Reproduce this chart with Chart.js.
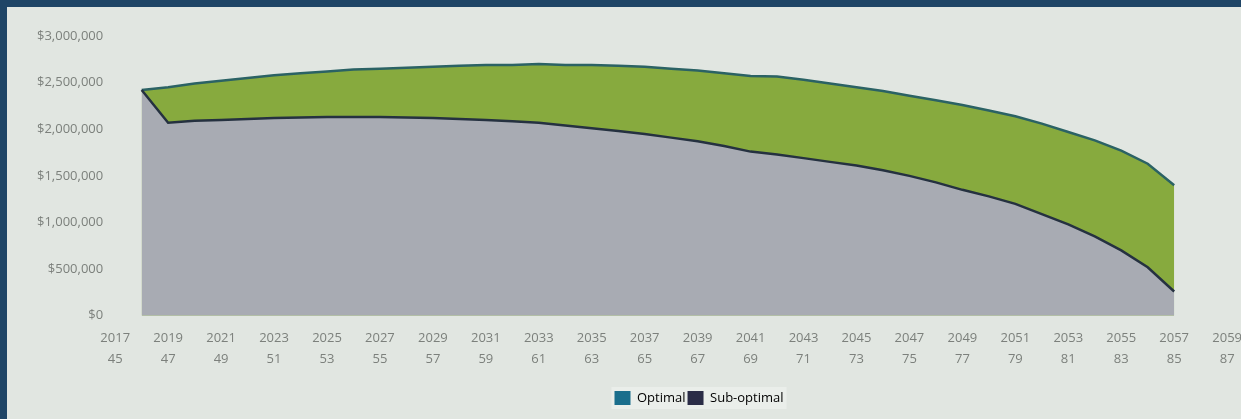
<!DOCTYPE html>
<html>
<head>
<meta charset="utf-8">
<script src="https://cdn.jsdelivr.net/npm/chart.js@4.4.0/dist/chart.umd.min.js"></script>
<style>
  html, body { margin: 0; padding: 0; background: #1f4566; overflow: hidden; }
  #panel { position: absolute; left: 7px; top: 7px; width: 1234px; height: 412px; background: #e1e6e1; overflow: hidden; }
  canvas { display: block; }
</style>
</head>
<body>
<div id="panel"><canvas id="PlanChart" width="1248" height="412"></canvas></div>
<script>
// years on the x axis, age = year - 1972
const years = [2018, 2019, 2020, 2021, 2022, 2023, 2024, 2025, 2026, 2027,
               2028, 2029, 2030, 2031, 2032, 2033, 2034, 2035, 2036, 2037,
               2038, 2039, 2040, 2041, 2042, 2043, 2044, 2045, 2046, 2047,
               2048, 2049, 2050, 2051, 2052, 2053, 2054, 2055, 2056, 2057];
const birthYear = 1972;

const optimal = [2420000, 2450000, 2490000, 2520000, 2550000, 2580000, 2600000, 2620000, 2640000, 2650000,
                 2660000, 2670000, 2680000, 2690000, 2690000, 2700000, 2690000, 2690000, 2680000, 2670000,
                 2650000, 2630000, 2600000, 2570000, 2565000, 2530000, 2490000, 2450000, 2410000, 2360000,
                 2310000, 2260000, 2200000, 2140000, 2060000, 1970000, 1880000, 1770000, 1630000, 1400000];
const subOptimal = [2420000, 2070000, 2090000, 2100000, 2110000, 2120000, 2125000, 2130000, 2130000, 2130000,
                    2125000, 2120000, 2110000, 2100000, 2085000, 2070000, 2040000, 2010000, 1980000, 1950000,
                    1910000, 1870000, 1820000, 1760000, 1730000, 1690000, 1650000, 1610000, 1560000, 1500000,
                    1430000, 1350000, 1280000, 1200000, 1090000, 980000, 850000, 700000, 520000, 260000];

const xMin = 2017, xMax = 2059;
const textColor = "#7c807c";

function toPoints(values) {
    return years.map((y, i) => ({ x: y, y: values[i] }));
}

// moves the legend a bit right of centre and puts a pale box behind it
const legendShift = {
    id: "legendShift",
    afterLayout(chart) {
        chart.legend.left += 59;
        chart.legend.right += 59;
    },
    beforeDraw(chart) {
        const lg = chart.legend;
        if (!lg.legendHitBoxes || !lg.legendHitBoxes.length) return;
        const first = lg.legendHitBoxes[0];
        const last = lg.legendHitBoxes[lg.legendHitBoxes.length - 1];
        const ctx = chart.ctx;
        ctx.save();
        ctx.fillStyle = "#eaeeea";
        ctx.fillRect(first.left - 3, first.top - 4, last.left + last.width - first.left + 6, first.height + 8);
        ctx.restore();
    }
};

const legendColors = ["#1a6e8c", "#2a2c46"];

let ctx = document.getElementById("PlanChart").getContext("2d");
let planChart = new Chart(ctx, {
    type: "line",
    data: {
        datasets: [{
            label: "Optimal",
            data: toPoints(optimal),
            borderColor: "#2b6264",
            backgroundColor: "#87aa3e",
            borderWidth: 2.5,
            fill: "origin",
            pointRadius: 0,
            tension: 0,
            order: 2
        }, {
            label: "Sub-optimal",
            data: toPoints(subOptimal),
            borderColor: "#253140",
            backgroundColor: "#a8abb3",
            borderWidth: 2.5,
            fill: "origin",
            pointRadius: 0,
            tension: 0,
            order: 1
        }]
    },
    options: {
        responsive: false,
        animation: false,
        layout: { padding: { left: 18, top: 29, right: 0, bottom: 4 } },
        scales: {
            x: {
                type: "linear",
                min: xMin,
                max: xMax,
                grid: { display: false, drawTicks: false },
                border: { display: false },
                afterFit: scale => { scale.height += 7; },
                ticks: {
                    stepSize: 2,
                    autoSkip: false,
                    maxRotation: 0,
                    padding: 13,
                    color: textColor,
                    font: { family: "Open Sans", size: 13, lineHeight: 1.55 },
                    callback: v => [String(v), String(v - birthYear)]
                }
            },
            y: {
                min: 0,
                max: 3000000,
                grid: { display: false, drawTicks: false },
                border: { display: false },
                ticks: {
                    stepSize: 500000,
                    padding: 12,
                    color: textColor,
                    font: { family: "Open Sans", size: 13 },
                    callback: v => "$" + v.toLocaleString("en-US")
                }
            }
        },
        plugins: {
            tooltip: { enabled: false },
            legend: {
                position: "bottom",
                labels: {
                    boxWidth: 16,
                    boxHeight: 14,
                    padding: 2,
                    color: "#5f6a70",
                    font: { family: "Open Sans", size: 13 },
                    generateLabels: function(chart) {
                        return chart.data.datasets.map((ds, i) => ({
                            text: ds.label,
                            fillStyle: legendColors[i],
                            strokeStyle: legendColors[i],
                            lineWidth: 0,
                            hidden: false,
                            datasetIndex: i
                        }));
                    }
                }
            }
        }
    },
    plugins: [legendShift]
});
</script>
</body>
</html>
